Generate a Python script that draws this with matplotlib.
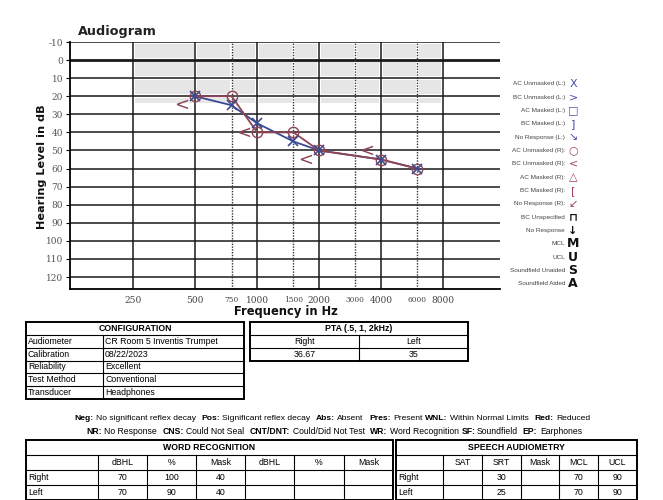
import matplotlib
matplotlib.use('Agg')
from matplotlib import pyplot as plt
from matplotlib import transforms
import numpy as np

plt.rcParams['font.family'] = ['Liberation Sans', 'DejaVu Sans']

# audiogram data
freqs = [500, 750, 1000, 1500, 2000, 4000, 6000]
left_ac = [20, 25, 35, 45, 50, 55, 60]
right_ac = [20, 20, 40, 40, 50, 55, 60]
bc_freqs = [500, 1000, 2000, 4000]
right_bc = [25, 40, 55, 50]

octave_ticks = [250, 500, 1000, 2000, 4000, 8000]
mid_ticks = [750, 1500, 3000, 6000]
db_ticks = list(range(-10, 130, 10))

legend_labels = ["AC Unmasked (L:)", "BC Unmasked (L:)", "AC Masked (L:)", "BC Masked (L:)",
                 "No Response (L:)", "AC Unmasked (R):", "BC Unmasked (R):", "AC Masked (R):",
                 "BC Masked (R):", "No Response (R):", "BC Unspecified", "No Response",
                 "MCL", "UCL", "Soundfield Unaided", "Soundfield Aided"]
legend_symbols = ["X", ">", "\u25a1", "]", "\u2198", "\u25cb", "<", "\u25b3", "[", "\u2199",
                  "\u2293", "\u2193", "M", "U", "S", "A"]

config_rows = [("Audiometer", "CR Room 5 Inventis Trumpet"),
               ("Calibration", "08/22/2023"),
               ("Reliability", "Excellent"),
               ("Test Method", "Conventional"),
               ("Transducer", "Headphones")]
pta_head = ["Right", "Left"]
pta_vals = ["36.67", "35"]
wr_cols = ["", "dBHL", "%", "Mask", "dBHL", "%", "Mask"]
wr_rows = [["Right", "70", "100", "40", "", "", ""],
           ["Left", "70", "90", "40", "", "", ""]]
sa_cols = ["", "SAT", "SRT", "Mask", "MCL", "UCL"]
sa_rows = [["Right", "", "30", "", "70", "90"],
           ["Left", "", "25", "", "70", "90"]]

blue = '#3b4a94'
red = '#8e4452'

fig = plt.figure(figsize=(6.63, 5.0), dpi=100)
ov = fig.add_axes([0, 0, 1, 1])
ov.set_xlim(0, 663)
ov.set_ylim(500, 0)
ov.axis('off')

ax = fig.add_axes([70/663, (500-289)/500, 430/663, 247/500])
ax.set_xscale('log', base=2)
ax.set_xlim(123, 15130)
ax.set_ylim(126.6, -10)
ax.set_facecolor('none')

# shaded normal range, drawn as tiles
xs = [250, 500, 750, 1000, 1500, 2000, 3000, 4000, 6000, 8000]
ys = [-10, 0, 10, 20, 25]
dx = 2 ** (1.8/62)
for i in range(len(xs)-1):
    for j in range(len(ys)-1):
        xa, xb = xs[i]*dx, xs[i+1]/dx
        ya, yb = ys[j]+1.0, ys[j+1]-1.0
        ax.fill([xa, xb, xb, xa], [ya, ya, yb, yb], color='#e6e6e6', lw=0, zorder=0)

for y in db_ticks:
    ax.axhline(y, color='#1a1a1a', lw=2.0 if y == 0 else 1.1, zorder=1)
for f in octave_ticks:
    ax.axvline(f, color='#1a1a1a', lw=1.1, zorder=1)
for f in mid_ticks:
    ax.axvline(f, color='#333333', lw=1.0, ls=(0, (1, 1)), zorder=1)

for s in ['right', 'top']:
    ax.spines[s].set_visible(False)
ax.spines['left'].set_linewidth(1.3)
ax.spines['bottom'].set_linewidth(1.3)

ax.set_yticks(db_ticks)
ax.set_yticklabels([str(v) for v in db_ticks], family='DejaVu Serif')
ax.tick_params(axis='y', length=3, width=0.8, pad=2, labelsize=6.5, labelcolor='#555555')
ax.set_xticks(octave_ticks + mid_ticks)
ax.set_xticklabels([str(v) for v in octave_ticks + mid_ticks], family='DejaVu Serif')
ax.xaxis.set_minor_locator(matplotlib.ticker.NullLocator())
ax.tick_params(axis='x', length=0, pad=5, labelsize=6.5, labelcolor='#444444')
for lab in ax.get_xticklabels()[len(octave_ticks):]:
    lab.set_fontsize(5.3)

# data
ax.plot(freqs, left_ac, color=blue, lw=1.3, zorder=3)
ax.plot(freqs, right_ac, color=red, lw=1.3, zorder=3)
ax.plot(freqs, right_ac, ls='none', marker='o', ms=7.5, mfc='none', mec=red, mew=1.0, zorder=4)
ax.plot(freqs, left_ac, ls='none', marker='x', ms=7, mec=blue, mew=1.2, zorder=5)
bc_tr = transforms.offset_copy(ax.transData, fig=fig, x=-14, y=0, units='dots')
for f, v in zip(bc_freqs, right_bc):
    ax.text(f, v, '<', transform=bc_tr, color=red, fontsize=13, family='DejaVu Sans',
            ha='center', va='center', zorder=5)

# titles
ov.text(78, 31, 'Audiogram', family='DejaVu Sans', fontweight='bold', fontsize=9.2,
        color='#222222', ha='left', va='center')
ov.text(42, 167, 'Hearing Level in dB', family='DejaVu Sans', fontweight='bold', fontsize=8.1,
        rotation=90, ha='center', va='center', color='#111111')
ov.text(286, 311, 'Frequency in Hz', family='DejaVu Sans', fontweight='bold', fontsize=8.3,
        ha='center', va='center', color='#111111')

# legend
for i, (lab, sym) in enumerate(zip(legend_labels, legend_symbols)):
    y = 84 + i * 13.33
    if i < 5:
        c = '#4b4fa8'
    elif i < 10:
        c = '#a04060'
    else:
        c = '#111111'
    ov.text(565, y, lab, fontsize=4.6, color='#444444', ha='right', va='center')
    ov.text(573, y, sym, fontsize=8 if i < 12 else 9, color=c, ha='center', va='center',
            family='DejaVu Sans', fontweight='bold' if i >= 10 else 'normal')


def table(xe, ye, title, outer=1.4, inner=0.8):
    ov.plot([xe[0], xe[-1], xe[-1], xe[0], xe[0]], [ye[0], ye[0], ye[-1], ye[-1], ye[0]],
            color='black', lw=outer, solid_joinstyle='miter')
    for y in ye[1:-1]:
        ov.plot([xe[0], xe[-1]], [y, y], color='black', lw=inner)
    for x in xe[1:-1]:
        ov.plot([x, x], [ye[1], ye[-1]], color='black', lw=inner)
    ov.text((xe[0]+xe[-1])/2, (ye[0]+ye[1])/2, title, fontsize=6.3, fontweight='bold',
            ha='center', va='center')


tsize = 6.3
# configuration
cx = [26, 103, 244]
cy = [322, 335, 348, 360.5, 373, 386, 399]
table(cx, cy, 'CONFIGURATION')
for k, (a, b) in enumerate(config_rows):
    yc = (cy[k+1] + cy[k+2]) / 2
    ov.text(cx[0]+2, yc, a, fontsize=tsize, ha='left', va='center')
    ov.text(cx[1]+2, yc, b, fontsize=tsize, ha='left', va='center')

# PTA
px = [250, 359, 468]
py = [322, 335, 348, 361]
table(px, py, 'PTA (.5, 1, 2kHz)')
for k in range(2):
    xc = (px[k] + px[k+1]) / 2
    ov.text(xc, (py[1]+py[2])/2, pta_head[k], fontsize=tsize, ha='center', va='center')
    ov.text(xc, (py[2]+py[3])/2, pta_vals[k], fontsize=tsize, ha='center', va='center')

# legend notes
renderer = fig.canvas.get_renderer()


def rich_line(parts, xc, y, size):
    objs = []
    for s, b, gap in parts:
        t = ov.text(0, y, s, fontsize=size, fontweight='bold' if b else 'normal',
                    ha='left', va='center')
        objs.append((t, gap))
    widths = [t.get_window_extent(renderer).width for t, g in objs]
    total = sum(widths) + sum(g for t, g in objs[:-1])
    x = xc - total / 2
    for (t, g), w in zip(objs, widths):
        t.set_x(x)
        x += w + g


line1 = [("Neg:", True, 2.5), ("No significant reflex decay", False, 5.5),
         ("Pos:", True, 2.5), ("Significant reflex decay", False, 5.5),
         ("Abs:", True, 2.5), ("Absent", False, 5.5),
         ("Pres:", True, 2.5), ("Present", False, 2.5),
         ("WNL:", True, 2.5), ("Within Normal Limits", False, 5.5),
         ("Red:", True, 2.5), ("Reduced", False, 0)]
line2 = [("NR:", True, 2.5), ("No Response", False, 5.5),
         ("CNS:", True, 2.5), ("Could Not Seal", False, 5.5),
         ("CNT/DNT:", True, 2.5), ("Could/Did Not Test", False, 5.5),
         ("WR:", True, 2.5), ("Word Recognition", False, 2.5),
         ("SF:", True, 0.5), ("Soundfield", False, 5.5),
         ("EP:", True, 2.5), ("Earphones", False, 0)]
rich_line(line1, 332, 418, 6.1)
rich_line(line2, 334, 432, 6.2)

# word recognition
wx = [26, 98, 147, 196, 245, 294, 344, 393]
wy = [440, 455, 470, 485, 499.5]
table(wx, wy, 'WORD RECOGNITION')
for k, name in enumerate(wr_cols):
    if name:
        ov.text((wx[k]+wx[k+1])/2, (wy[1]+wy[2])/2, name, fontsize=tsize, ha='center', va='center')
for r, row in enumerate(wr_rows):
    yc = (wy[r+2] + wy[r+3]) / 2
    for k, v in enumerate(row):
        if k == 0:
            ov.text(wx[0]+2, yc, v, fontsize=tsize, ha='left', va='center')
        elif v:
            ov.text((wx[k]+wx[k+1])/2, yc, v, fontsize=tsize, ha='center', va='center')

# speech audiometry
sx = [396, 443, 482, 521, 559, 598, 637]
table(sx, wy, 'SPEECH AUDIOMETRY')
for k, name in enumerate(sa_cols):
    if name:
        ov.text((sx[k]+sx[k+1])/2, (wy[1]+wy[2])/2, name, fontsize=tsize, ha='center', va='center')
for r, row in enumerate(sa_rows):
    yc = (wy[r+2] + wy[r+3]) / 2
    for k, v in enumerate(row):
        if k == 0:
            ov.text(sx[0]+2, yc, v, fontsize=tsize, ha='left', va='center')
        elif v:
            ov.text((sx[k]+sx[k+1])/2, yc, v, fontsize=tsize, ha='center', va='center')

fig.savefig('out.png', dpi=100)
